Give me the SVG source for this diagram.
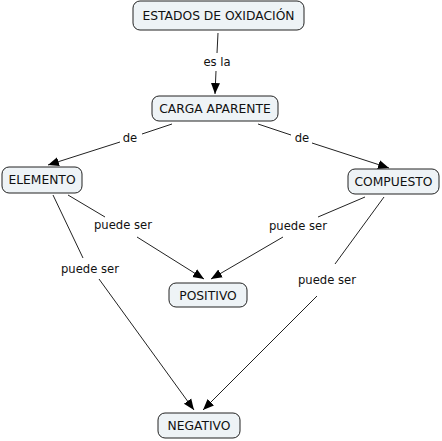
<svg xmlns="http://www.w3.org/2000/svg" width="442" height="441" viewBox="0 0 442 441">
<style>
.node rect{fill:#eef3f6;stroke:#222;stroke-width:1}
text{font-family:"DejaVu Sans",Verdana,sans-serif;font-size:12.3px;fill:#111;text-anchor:middle;dominant-baseline:central}
.lbl{font-size:11.6px}
#connectors line{stroke:#222;stroke-width:1}
</style>
<defs>
<marker id="arr" markerUnits="userSpaceOnUse" markerWidth="12" markerHeight="12" viewBox="0 0 12 12" refX="11" refY="6" orient="auto">
<path d="M0,1.5 L11,6 L0,10.5 Z" fill="#000"/>
</marker>
</defs>
<rect width="442" height="441" fill="#fff"/>
<g id="connectors">
<line x1="218" y1="33" x2="217" y2="53"/>
<text class="lbl" x="217" y="62">es la</text>
<line x1="216" y1="71" x2="215" y2="94" marker-end="url(#arr)"/>
<line x1="172" y1="124" x2="142" y2="134"/>
<text class="lbl" x="130" y="138">de</text>
<line x1="120" y1="142" x2="48" y2="165" marker-end="url(#arr)"/>
<line x1="258" y1="124" x2="291" y2="135"/>
<text class="lbl" x="302" y="138">de</text>
<line x1="312" y1="143" x2="389" y2="168" marker-end="url(#arr)"/>
<line x1="68" y1="195" x2="105" y2="217"/>
<text class="lbl" x="123" y="225">puede ser</text>
<line x1="137" y1="237" x2="204" y2="279" marker-end="url(#arr)"/>
<line x1="365" y1="197" x2="318" y2="217"/>
<text class="lbl" x="298" y="226">puede ser</text>
<line x1="283" y1="237" x2="211" y2="279" marker-end="url(#arr)"/>
<line x1="53" y1="195" x2="83" y2="258"/>
<text class="lbl" x="90" y="269">puede ser</text>
<line x1="99" y1="279" x2="194" y2="410" marker-end="url(#arr)"/>
<line x1="384" y1="197" x2="335" y2="264"/>
<text class="lbl" x="327" y="280">puede ser</text>
<line x1="317" y1="296" x2="203" y2="410" marker-end="url(#arr)"/>
</g>
<g id="n-estados" class="node"><rect x="133" y="1" width="171" height="29" rx="7"/><text x="218.5" y="16">ESTADOS DE OXIDACIÓN</text></g>
<g id="n-carga" class="node"><rect x="152" y="96" width="126" height="25" rx="7"/><text x="215" y="109">CARGA APARENTE</text></g>
<g id="n-elemento" class="node"><rect x="2" y="167" width="80" height="26" rx="7"/><text x="42" y="180">ELEMENTO</text></g>
<g id="n-compuesto" class="node"><rect x="348" y="169" width="91" height="25" rx="7"/><text x="393.5" y="182">COMPUESTO</text></g>
<g id="n-positivo" class="node"><rect x="169" y="283" width="78" height="24" rx="7"/><text x="208" y="295.5">POSITIVO</text></g>
<g id="n-negativo" class="node"><rect x="158" y="413" width="82" height="25" rx="7"/><text x="199" y="426">NEGATIVO</text></g>
</svg>
